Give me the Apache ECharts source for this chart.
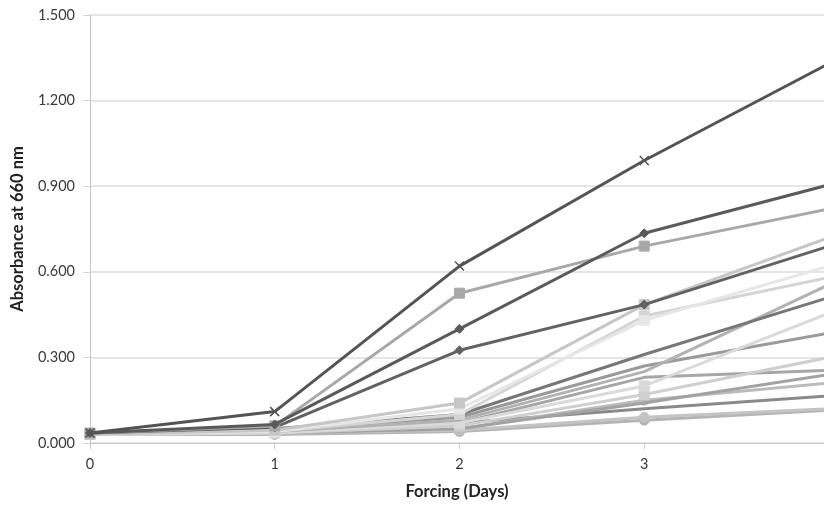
<!DOCTYPE html>
<html>
<head>
<meta charset="utf-8">
<script src="https://cdn.jsdelivr.net/npm/echarts@6/dist/echarts.min.js"></script>
<style>html,body{margin:0;padding:0;background:#fff;}#c{width:824px;height:505px;}</style>
</head>
<body>
<div id="c"></div>
<script>
const days = [0, 1, 2, 3, 4];
const yTicks = [0, 0.3, 0.6, 0.9, 1.2, 1.5];

const s01 = [0.035, 0.110, 0.620, 0.990, 1.330];
const s02 = [0.035, 0.065, 0.400, 0.735, 0.905];
const s03 = [0.035, 0.060, 0.525, 0.690, 0.820];
const s04 = [0.035, 0.055, 0.325, 0.485, 0.690];
const s05 = [0.030, 0.045, 0.140, 0.485, 0.720];
const s06 = [0.030, 0.040, 0.120, 0.430, 0.620];
const s07 = [0.030, 0.040, 0.100, 0.445, 0.580];
const s08 = [0.035, 0.050, 0.100, 0.310, 0.510];
const s09 = [0.030, 0.040, 0.080, 0.250, 0.555];
const s10 = [0.030, 0.035, 0.070, 0.200, 0.455];
const s11 = [0.035, 0.045, 0.090, 0.270, 0.385];
const s12 = [0.030, 0.035, 0.060, 0.170, 0.300];
const s13 = [0.030, 0.040, 0.070, 0.230, 0.255];
const s14 = [0.030, 0.035, 0.050, 0.150, 0.210];
const s15 = [0.035, 0.040, 0.070, 0.120, 0.165];
const s16 = [0.030, 0.035, 0.045, 0.090, 0.120];
const s17 = [0.030, 0.030, 0.040, 0.080, 0.115];
const s18 = [0.030, 0.035, 0.050, 0.140, 0.240];

// visible part of the x range (the reference is cut just before day 4)
const xVisibleMax = 3.973;

const seriesDefs = [
  [s17, '#b4b4b4', 'circle'],
  [s16, '#c4c4c4', 'circle'],
  [s15, '#8a8a8a', 'none'],
  [s14, '#bcbcbc', 'circle'],
  [s18, '#a2a2a2', 'none'],
  [s13, '#a6a6a6', 'none'],
  [s12, '#cfcfcf', 'rect'],
  [s11, '#9a9a9a', 'none'],
  [s10, '#dadada', 'rect'],
  [s09, '#b2b2b2', 'none'],
  [s08, '#777777', 'none'],
  [s07, '#d4d4d4', 'rect'],
  [s06, '#e6e6e6', 'rect'],
  [s05, '#c6c6c6', 'rect'],
  [s04, '#626262', 'diamond'],
  [s03, '#a8a8a8', 'rect'],
  [s02, '#5a5a5a', 'diamond'],
  [s01, '#545454', 'path://M0,0L10,10M10,0L0,10']
];

const series = seriesDefs.map(function (d, i) {
  return {
    type: 'line',
    data: days.map(function (x, k) { return [x, d[0][k]]; }),
    symbol: d[2],
    symbolSize: d[2] === 'rect' ? 10 : (d[2] === 'circle' ? 10 : 9),
    showSymbol: d[2] !== 'none',
    clip: true,
    lineStyle: { color: d[1], width: 3 },
    itemStyle: d[2].indexOf('path') === 0 ? { color: 'none', borderColor: d[1], borderWidth: 1.5 } : { color: d[1], borderColor: d[1] },
    z: 2 + i,
    animation: false
  };
});

const chart = echarts.init(document.getElementById('c'));
chart.setOption({
  backgroundColor: '#fff',
  animation: false,
  grid: { left: 90, right: 0, top: 15, bottom: 57, containLabel: false },
  xAxis: {
    type: 'value',
    min: days[0],
    max: xVisibleMax,
    interval: 1,
    name: 'Forcing (Days)',
    nameLocation: 'middle',
    nameGap: 40,
    nameTextStyle: { fontFamily: 'Lato', fontWeight: 'bold', fontSize: 16.5, color: '#222' },
    axisLine: { show: true, lineStyle: { color: '#c8c8c8', width: 1 } },
    axisTick: { show: true, length: 6, lineStyle: { color: '#c8c8c8' } },
    axisLabel: { fontFamily: 'Lato', fontSize: 14.5, color: '#3a3a3a', margin: 14, showMaxLabel: false },
    splitLine: { show: false }
  },
  yAxis: {
    type: 'value',
    min: yTicks[0],
    max: yTicks[yTicks.length - 1],
    interval: 0.3,
    name: 'Absorbance at 660 nm',
    nameLocation: 'middle',
    nameGap: 64,
    nameTextStyle: { fontFamily: 'Lato', fontWeight: 'bold', fontSize: 16.5, color: '#222' },
    axisLine: { show: true, lineStyle: { color: '#c8c8c8', width: 1 } },
    axisTick: { show: true, length: 7, lineStyle: { color: '#d4d4d4' } },
    axisLabel: { fontFamily: 'Lato', fontSize: 14.5, color: '#3a3a3a', margin: 15, formatter: function (v) { return v.toFixed(3); } },
    splitLine: { show: true, lineStyle: { color: '#dcdcdc', width: 1.5 } }
  },
  series: series
});
</script>
</body>
</html>
